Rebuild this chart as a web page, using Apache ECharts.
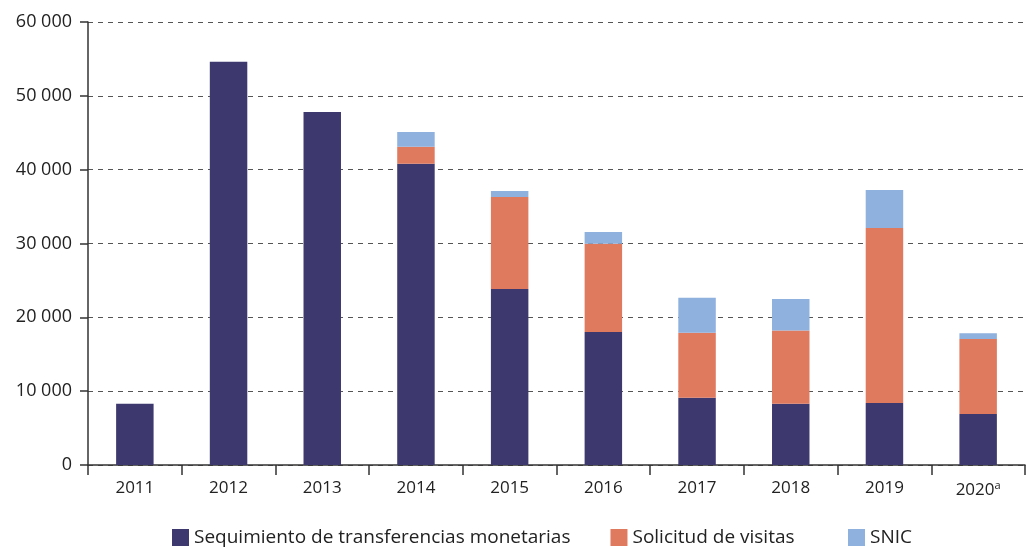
<!DOCTYPE html>
<html><head><meta charset="utf-8">
<script src="https://cdn.jsdelivr.net/npm/echarts@6/dist/echarts.min.js"></script>
<style>html,body{margin:0;padding:0;background:#fff}#c{width:1029px;height:548px}</style>
</head><body><div id="c"></div>
<script>
var categories = ['2011','2012','2013','2014','2015','2016','2017','2018','2019','2020a'];
var seguimiento = [8300, 54600, 47800, 40800, 23850, 18000, 9100, 8300, 8400, 6900];
var solicitud = [0, 0, 0, 2300, 12450, 11950, 8800, 9900, 23700, 10150];
var snic = [0, 0, 0, 2000, 800, 1600, 4750, 4300, 5150, 800];
var yTicks = [0, 10000, 20000, 30000, 40000, 50000, 60000];
var seriesNames = ['Sequimiento de transferencias monetarias', 'Solicitud de visitas', 'SNIC'];

var FONT = '"Open Sans", sans-serif';
var legendBase = {
  top: 528, itemWidth: 17, itemHeight: 17, itemGap: 40,
  icon: 'rect', padding: 0,
  textStyle: {fontSize: 19, color: '#222', fontFamily: FONT}
};
var chart = echarts.init(document.getElementById('c'));
chart.setOption({
  animation: false,
  textStyle: {fontFamily: FONT},
  grid: {left: 88, right: 4, top: 22, bottom: 83},
  legend: [
    Object.assign({}, legendBase, {left: 172, data: seriesNames.slice(0, 2)}),
    Object.assign({}, legendBase, {left: 848, data: seriesNames.slice(2)})
  ],
  xAxis: {
    type: 'category', data: categories,
    axisLine: {lineStyle: {color: '#333', width: 1.5}},
    axisTick: {show: true, length: 10, lineStyle: {color: '#333', width: 1.5}},
    axisLabel: {
      interval: 0,
      color: '#222', fontSize: 17, margin: 15, fontFamily: FONT,
      formatter: function (v) { return v === '2020a' ? '2020{sup|a}' : v; },
      rich: {sup: {fontSize: 11, verticalAlign: 'top', padding: [0, 0, 9, 0], color: '#222'}}
    }
  },
  yAxis: {
    type: 'value', min: 0, max: 60000, interval: 10000,
    axisLine: {show: true, lineStyle: {color: '#333', width: 1.5}},
    axisTick: {show: true, length: 8, lineStyle: {color: '#333', width: 1.5}},
    splitLine: {lineStyle: {color: '#555', type: [5, 5], width: 1}},
    axisLabel: {
      color: '#222', fontSize: 18, margin: 16, fontFamily: FONT,
      formatter: function (v) { return yTicks.indexOf(v) >= 0 ? String(v).replace(/\B(?=(\d{3})+(?!\d))/g, ' ') : ''; }
    }
  },
  series: [
    {name: seriesNames[0], type: 'bar', stack: 't', data: seguimiento, barWidth: '40%', itemStyle: {color: '#3d396f'}},
    {name: seriesNames[1], type: 'bar', stack: 't', data: solicitud, itemStyle: {color: '#e07a5f'}},
    {name: seriesNames[2], type: 'bar', stack: 't', data: snic, itemStyle: {color: '#8fb1de'}}
  ]
});
</script></body></html>
